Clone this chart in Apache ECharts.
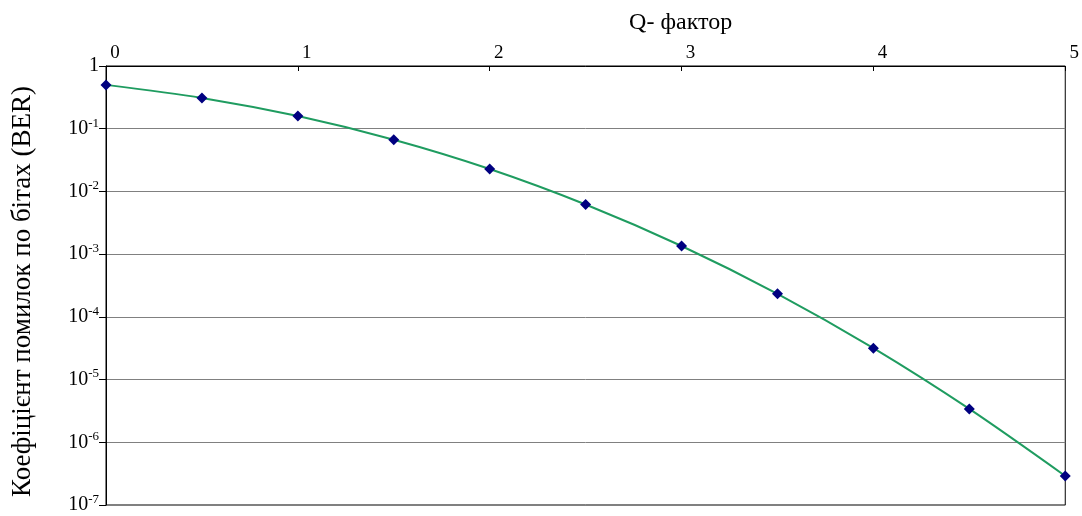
<!DOCTYPE html>
<html>
<head>
<meta charset="utf-8">
<script src="https://cdn.jsdelivr.net/npm/echarts@6/dist/echarts.min.js"></script>
<style>
html,body{margin:0;padding:0;background:#fff;}
#chart{width:1082px;height:516px;}
</style>
</head>
<body>
<div id="chart"></div>
<script>
const qFactor = [0, 0.5, 1, 1.5, 2, 2.5, 3, 3.5, 4, 4.5, 5];
const berValues = [0.5, 0.31, 0.159, 0.0668, 0.0228, 0.0062, 0.00135, 0.000233, 0.0000317, 0.0000034, 0.00000029];
const xTickLabels = ['0', '1', '2', '3', '4', '5'];
const xAxisTitle = 'Q- фактор';
const yAxisTitle = 'Коефіцієнт помилок по бітах (BER)';

const serif = '"Liberation Serif", "DejaVu Serif", serif';
const chart = echarts.init(document.getElementById('chart'));
chart.setOption({
  animation: false,
  backgroundColor: '#fff',
  grid: { left: 106, right: 16, top: 66, bottom: 11, show: true, borderColor: '#000', borderWidth: 1 },
  xAxis: {
    type: 'value', position: 'top', min: 0, max: 5, interval: 1,
    name: xAxisTitle, nameLocation: 'middle', nameGap: 31,
    nameTextStyle: { fontFamily: serif, fontSize: 24, color: '#000', padding: [0, 0, 0, 190] },
    axisLine: { show: true, lineStyle: { color: '#000', width: 1 } },
    axisTick: { show: true, inside: true, length: 5, lineStyle: { color: '#000' } },
    axisLabel: {
      fontFamily: serif, fontSize: 19, color: '#000', margin: 3,
      padding: [0, 0, 0, 18],
      formatter: v => xTickLabels[Math.round(v)]
    },
    splitLine: { show: false }
  },
  yAxis: {
    type: 'log', logBase: 10, min: 1e-7, max: 1,
    name: yAxisTitle, nameLocation: 'middle', nameGap: 70, nameRotate: 90,
    nameTextStyle: { fontFamily: serif, fontSize: 27, color: '#000', padding: [0, 12, 0, 0] },
    axisLine: { show: true, lineStyle: { color: '#000', width: 1 } },
    axisTick: { show: true, length: 7, lineStyle: { color: '#000' } },
    axisLabel: {
      margin: 7, color: '#000',
      formatter: v => {
        const e = Math.round(Math.log10(v));
        return e === 0 ? '{b|1}' : '{b|10}{s|' + e + '}';
      },
      rich: {
        b: { fontFamily: serif, fontSize: 20, color: '#000', lineHeight: 24 },
        s: { fontFamily: serif, fontSize: 13, color: '#000', lineHeight: 13, verticalAlign: 'top' }
      }
    },
    splitLine: { show: true, lineStyle: { color: '#808080', width: 1 } }
  },
  series: [{
    type: 'line',
    data: qFactor.map((q, i) => [q, berValues[i]]),
    smooth: 0.3,
    lineStyle: { color: '#1f9c60', width: 2 },
    symbol: 'diamond', symbolSize: 11,
    itemStyle: { color: '#000080' },
    z: 5
  }]
});
</script>
</body>
</html>
